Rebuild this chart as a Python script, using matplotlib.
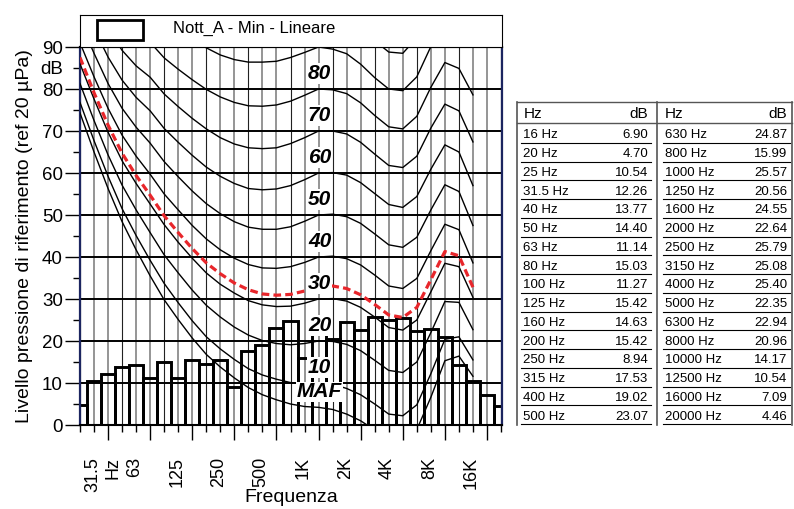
import numpy as np
import matplotlib
matplotlib.use('Agg')
import matplotlib.pyplot as plt
from matplotlib.patches import Rectangle
from matplotlib.transforms import ScaledTranslation

plt.rcParams['font.family'] = ['Liberation Sans', 'DejaVu Sans']

# third-octave spectrum (table on the right)
band_hz = ['16 Hz', '20 Hz', '25 Hz', '31.5 Hz', '40 Hz', '50 Hz', '63 Hz', '80 Hz',
           '100 Hz', '125 Hz', '160 Hz', '200 Hz', '250 Hz', '315 Hz', '400 Hz', '500 Hz',
           '630 Hz', '800 Hz', '1000 Hz', '1250 Hz', '1600 Hz', '2000 Hz', '2500 Hz', '3150 Hz',
           '4000 Hz', '5000 Hz', '6300 Hz', '8000 Hz', '10000 Hz', '12500 Hz', '16000 Hz', '20000 Hz']
band_db = [6.90, 4.70, 10.54, 12.26, 13.77, 14.40, 11.14, 15.03,
           11.27, 15.42, 14.63, 15.42, 8.94, 17.53, 19.02, 23.07,
           24.87, 15.99, 25.57, 20.56, 24.55, 22.64, 25.79, 25.08,
           25.40, 22.35, 22.94, 20.96, 14.17, 10.54, 7.09, 4.46]

# isophonic curves, 20 Hz .. 12.5 kHz
curve_maf = [74.3, 65.0, 56.3, 48.4, 41.7, 35.5, 29.8, 25.1, 20.7, 16.8, 13.8, 11.2, 8.9, 7.2, 6.0,
             5.0, 4.4, 4.2, 3.7, 2.6, 1.0, -1.2, -3.6, -3.9, -1.1, 6.6, 15.3, 16.4, 11.6]
curve_10 = [76.8, 67.7, 59.2, 51.5, 45.1, 39.2, 33.7, 29.1, 24.8, 21.0, 18.1, 15.6, 13.4, 11.9, 10.9,
            10.1, 9.9, 10.0, 9.7, 8.7, 7.2, 5.0, 2.6, 2.2, 4.8, 12.2, 20.4, 21.0, 15.5]
curve_20 = [81.3, 72.5, 64.3, 57.1, 51.2, 45.8, 40.5, 36.2, 32.1, 28.5, 25.7, 23.3, 21.4, 20.1, 19.4,
            19.1, 19.4, 20.0, 19.9, 19.2, 17.7, 15.4, 13.0, 12.5, 15.0, 22.0, 29.4, 29.2, 22.7]
curve_30 = [86.0, 77.6, 69.7, 62.9, 57.5, 52.6, 47.7, 43.5, 39.7, 36.2, 33.5, 31.4, 29.6, 28.6, 28.2,
            28.3, 29.0, 30.0, 30.1, 29.5, 28.0, 25.7, 23.2, 22.6, 25.0, 31.7, 38.5, 37.7, 30.4]
curve_40 = [91.0, 82.9, 75.4, 69.0, 64.0, 59.7, 55.0, 51.2, 47.5, 44.3, 41.7, 39.7, 38.2, 37.4, 37.3,
            37.7, 38.7, 40.0, 40.2, 39.6, 38.1, 35.7, 33.1, 32.5, 34.9, 41.5, 47.8, 46.5, 38.6]
curve_50 = [96.2, 88.5, 81.3, 75.4, 70.9, 67.1, 62.7, 59.1, 55.7, 52.7, 50.3, 48.4, 47.1, 46.6, 46.6,
            47.2, 48.5, 50.0, 50.2, 49.6, 48.0, 45.5, 42.9, 42.3, 44.7, 51.2, 57.2, 55.6, 47.5]
curve_60 = [101.7, 94.4, 87.6, 82.1, 78.0, 74.8, 70.6, 67.3, 64.2, 61.4, 59.2, 57.5, 56.3, 56.0, 56.2,
            57.0, 58.4, 60.0, 60.1, 59.5, 57.7, 55.1, 52.5, 51.8, 54.4, 60.9, 66.7, 65.0, 57.0]
curve_70 = [107.6, 100.7, 94.3, 89.2, 85.5, 82.8, 78.8, 75.8, 73.0, 70.5, 68.4, 66.9, 66.0, 65.8, 66.0,
            67.0, 68.4, 70.0, 70.0, 69.3, 67.3, 64.5, 61.8, 61.3, 64.0, 70.7, 76.4, 74.8, 67.4]
curve_80 = [113.7, 107.3, 101.3, 96.6, 93.3, 91.1, 87.4, 84.7, 82.2, 79.9, 78.1, 76.8, 76.0, 75.9, 76.2,
            77.1, 78.5, 80.0, 79.8, 78.9, 76.7, 73.7, 71.0, 70.5, 73.5, 80.4, 86.3, 84.9, 78.6]
curve_90 = [120.3, 114.4, 108.7, 104.4, 101.5, 99.8, 96.3, 94.0, 91.8, 89.8, 88.1, 87.0, 86.4, 86.4, 86.6,
            87.5, 88.7, 90.0, 89.5, 88.4, 85.9, 82.7, 80.0, 79.6, 82.9, 90.1, 96.4, 95.5, 90.9]
curve_100 = [127.2, 121.9, 116.6, 112.6, 110.1, 108.9, 105.6, 103.6, 101.8, 100.1, 98.7, 97.8, 97.2, 97.3, 97.4,
             98.1, 99.0, 100.0, 99.1, 97.7, 94.9, 91.5, 88.8, 88.5, 92.2, 99.9, 106.6, 106.5, 104.3]
# red dashed curve
curve_red = [87.5, 79.1, 71.4, 64.7, 59.4, 54.7, 49.8, 45.8, 42.0, 38.6, 36.0, 33.8, 32.2, 31.2, 30.9,
             31.1, 31.9, 33.0, 33.1, 32.5, 31.0, 28.7, 26.2, 25.6, 28.0, 34.6, 41.3, 40.3, 32.8]

curve_names = ['MAF', '10', '20', '30', '40', '50', '60', '70', '80']
octave_pos = [3, 6, 9, 12, 15, 18, 21, 24, 27, 30]
octave_lab = ['31.5\nHz', '63', '125', '250', '500', '1K', '2K', '4K', '8K', '16K']
legend_text = 'Nott_A - Min - Lineare'
ylab = 'Livello pressione di riferimento (ref 20 µPa)'

W, H = 794, 509


def px_rect(x0, y0, x1, y1):
    return [x0 / W, 1 - y1 / H, (x1 - x0) / W, (y1 - y0) / H]


fig = plt.figure(figsize=(W / 100, H / 100), dpi=100)
ax = fig.add_axes(px_rect(80, 47, 502, 425))

band_pos = np.arange(len(band_db))
curve_pos = np.arange(1, len(curve_maf) + 1)

# grid
for p in band_pos:
    if p % 3 == 1:
        ax.axvline(p, color='#222222', lw=0.8, zorder=1)
    else:
        ax.axvline(p, color='#8c8c8c', lw=1.3, zorder=1)
for v in range(10, 90, 10):
    ax.axhline(v, color='black', lw=1.4, zorder=1.5)

bars = ax.bar(band_pos, band_db, width=1.0, facecolor='none', edgecolor='black',
              lw=2.1, zorder=2)

curves = [curve_maf, curve_10, curve_20, curve_30, curve_40, curve_50,
          curve_60, curve_70, curve_80, curve_90, curve_100]
for c in curves:
    ax.plot(curve_pos, c, color='black', lw=1.0, zorder=3)
ax.plot(curve_pos, curve_red, color='#e8262b', lw=2.3, ls=(0, (2.4, 1.3)), zorder=4)

# curve labels at 1 kHz
k1 = band_hz.index('1000 Hz')
for name, c in zip(curve_names, curves):
    ax.text(k1 + 0.07, c[k1 - 1] + 3.7, name, fontsize=15, fontweight='bold',
            fontstyle='italic', ha='center', va='center', zorder=6,
            bbox=dict(facecolor='white', edgecolor='none', pad=0.5))

ax.set_xlim(1.076, 31.07)
ax.set_ylim(0, 90)
ax.set_yticks(np.arange(0, 91, 10))
ax.set_yticks(np.arange(5, 90, 10), minor=True)
ax.set_xticks(octave_pos, octave_lab)
ax.set_xticks(band_pos[1:], minor=True)
ax.tick_params(axis='y', which='major', length=10.8, width=1, labelsize=13.5, pad=1.5)
ax.tick_params(axis='y', which='minor', length=5, width=1)
ax.tick_params(axis='x', which='major', length=10.8, width=1, labelsize=13, pad=12)
ax.tick_params(axis='x', which='minor', length=5, width=1)

off = ScaledTranslation(-24 / 100, 0, fig.dpi_scale_trans)
for lab in ax.get_xticklabels():
    lab.set_rotation(90)
    lab.set_rotation_mode('anchor')
    lab.set_ha('right')
    lab.set_va('top')
    lab.set_linespacing(1.3)
    lab.set_transform(lab.get_transform() + off)

ax.annotate('dB', xy=(0, 90), xycoords=('axes fraction', 'data'),
            xytext=(-12.3, -16.5), textcoords='offset points',
            ha='right', va='center', fontsize=13.5)

for s in ['left', 'right']:
    ax.spines[s].set_color('#1c2560')
    ax.spines[s].set_linewidth(1.6)
for s in ['top', 'bottom']:
    ax.spines[s].set_linewidth(1.5)

ax.set_ylabel(ylab, fontsize=14)
ax.yaxis.set_label_coords(-0.111, 0.5)
ax.set_xlabel('Frequenza', fontsize=14)
ax.xaxis.set_label_coords(0.5, -0.17)

# legend box above the plot
lax = fig.add_axes(px_rect(80, 15, 502, 47))
lax.set_xlim(80, 502)
lax.set_ylim(47, 15)
lax.set_xticks([])
lax.set_yticks([])
lax.add_patch(Rectangle((96.7, 20), 46.6, 20, facecolor='white', edgecolor='black', lw=2.0))
lax.text(173, 28, legend_text, fontsize=12, ha='left', va='center')

# table
tax = fig.add_axes(px_rect(514, 100, 794, 428))
tax.set_xlim(514, 794)
tax.set_ylim(428, 100)
tax.axis('off')
top, bot = 101.7, 425
tax.plot([516.7, 792], [top, top], color='#555555', lw=1)
tax.plot([516.7, 516.7], [top, bot], color='#555555', lw=1.2)
tax.plot([656.7, 656.7], [top, bot], color='#555555', lw=1.2)
tax.plot([792, 792], [top, bot], color='#555555', lw=1.2)
tax.plot([516.7, 792], [123.3, 123.3], color='#555555', lw=1)
for xl, xr in [(524, 648.5), (665, 787)]:
    tax.text(xl, 113.5, 'Hz', fontsize=11, ha='left', va='center')
    tax.text(xr, 113.5, 'dB', fontsize=11, ha='right', va='center')

half = len(band_hz) // 2
for k in range(half):
    y = 135.3 + 18.75 * k
    for j, (xl, xr) in enumerate([(523, 648.5), (665, 787.5)]):
        idx = k + j * half
        tax.text(xl, y, band_hz[idx], fontsize=9.5, ha='left', va='center')
        tax.text(xr, y, '%.2f' % band_db[idx], fontsize=9.5, ha='right', va='center')
        tax.plot([xl - 2, xr + 2], [y + 7.5, y + 7.5], color='black', lw=0.8)

fig.savefig('out.png', dpi=100)
